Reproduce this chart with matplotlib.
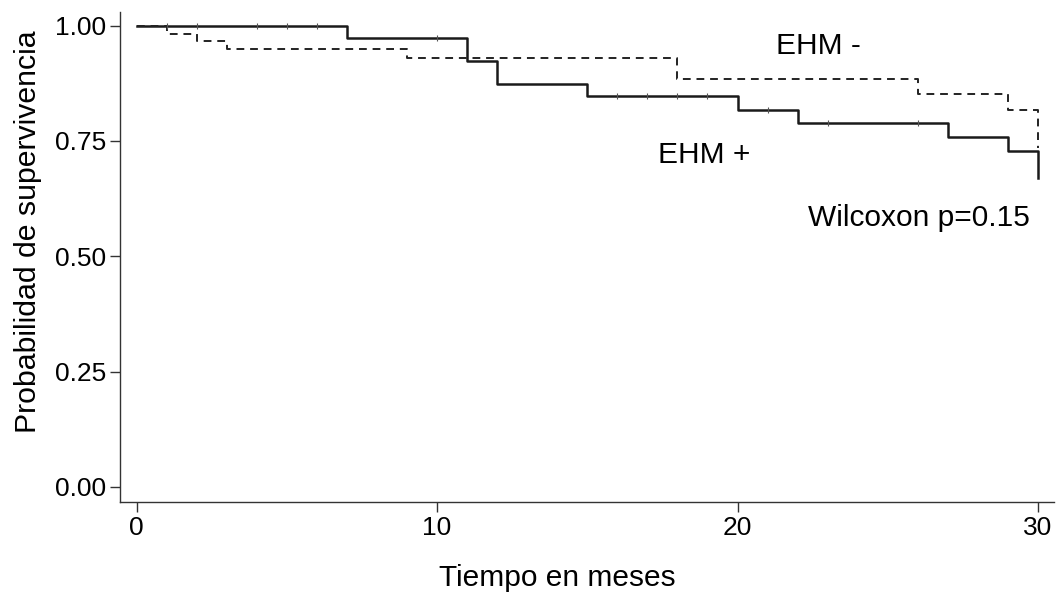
import matplotlib
matplotlib.use("Agg")
import matplotlib.pyplot as plt

plt.rcParams['font.family'] = ['Liberation Sans', 'DejaVu Sans']

# EHM + (solid) step curve
pos_t = [0, 7, 11, 12, 15, 20, 22, 27, 29, 30]
pos_s = [1.0, 0.974, 0.924, 0.874, 0.847, 0.818, 0.789, 0.758, 0.729, 0.669]
# censored times for EHM +
pos_cens_t = [1, 2, 4, 5, 6, 10, 16, 17, 18, 19, 21, 23, 26]

# EHM - (dashed) step curve
neg_t = [0, 1, 2, 3, 9, 18, 26, 29, 30]
neg_s = [1.0, 0.983, 0.966, 0.949, 0.930, 0.885, 0.852, 0.818, 0.735]

labels = ["EHM -", "EHM +", "Wilcoxon p=0.15"]


def surv_at(t, times, surv):
    v = surv[0]
    for tt, ss in zip(times, surv):
        if tt <= t:
            v = ss
    return v


fig, ax = plt.subplots(figsize=(10.63, 5.92), dpi=100)
fig.subplots_adjust(left=0.113, right=0.992, top=0.98, bottom=0.152)

ax.plot(pos_t, pos_s, drawstyle='steps-post', color='#1a1a1a', lw=1.8)
ax.plot(neg_t, neg_s, drawstyle='steps-post', color='#222222', lw=1.4,
        linestyle=(0, (4, 3)))

cens_y = [surv_at(t, pos_t, pos_s) for t in pos_cens_t]
ax.plot(pos_cens_t, cens_y, linestyle='none', marker='|', markersize=4,
        color='#555555', markeredgewidth=0.8)

ax.text(22.7, 0.957, labels[0], fontsize=21.5, ha='center', va='center')
ax.text(18.9, 0.719, labels[1], fontsize=21.5, ha='center', va='center')
ax.text(26.05, 0.584, labels[2], fontsize=21.5, ha='center', va='center')

ax.set_xlim(-0.55, 30.55)
ax.set_ylim(-0.033, 1.03)
ax.set_xticks([0, 10, 20, 30])
ax.set_yticks([0, 0.25, 0.5, 0.75, 1.0])
ax.set_yticklabels(["0.00", "0.25", "0.50", "0.75", "1.00"])
ax.tick_params(labelsize=19, length=7, width=1, color='#333333', pad=3)

for s in ['top', 'right']:
    ax.spines[s].set_visible(False)
for s in ['left', 'bottom']:
    ax.spines[s].set_color('#333333')
    ax.spines[s].set_linewidth(1)

ax.set_xlabel("Tiempo en meses", fontsize=21.5, va='center', ha='center')
ax.set_ylabel("Probabilidad de supervivencia", fontsize=21.8, va='center', ha='center')
ax.xaxis.set_label_coords(0.468, -0.155)
ax.yaxis.set_label_coords(-0.0985, 0.551)

plt.savefig("out.png", dpi=100)
